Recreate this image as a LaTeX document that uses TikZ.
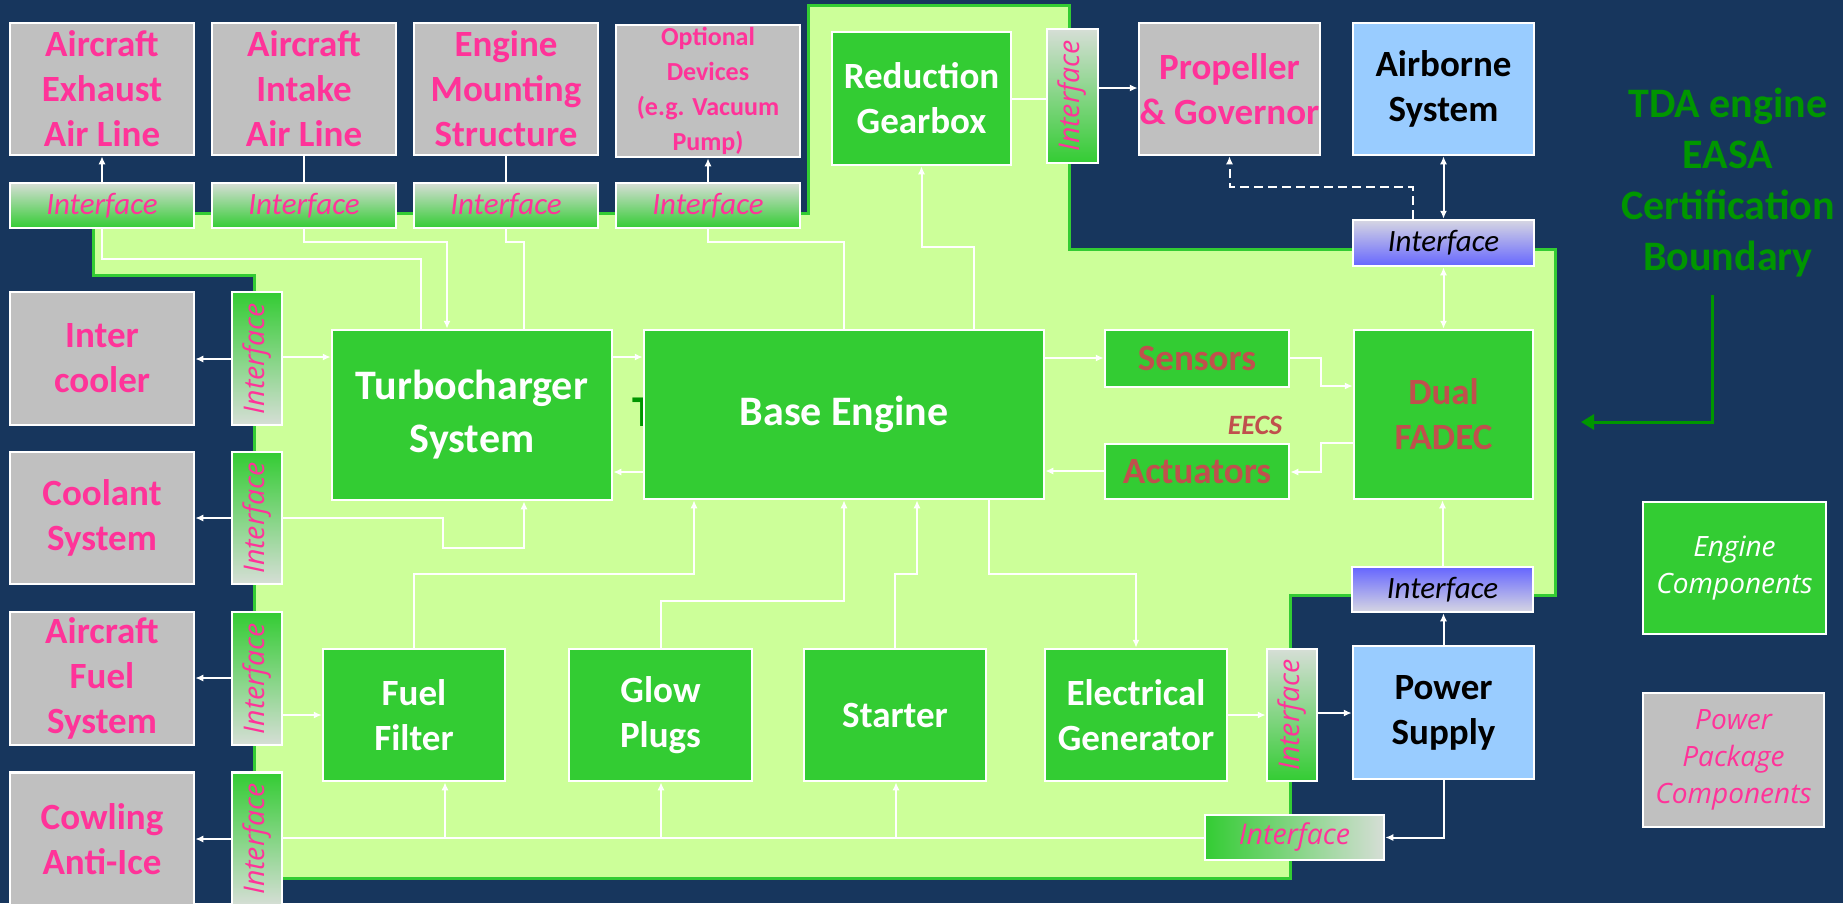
\documentclass[tikz,border=0pt]{standalone}
\usepackage{fontspec}
\setmainfont{Carlito}
\newfontfamily\osans{Open Sans}
\usetikzlibrary{arrows.meta}
\definecolor{bgnavy}{RGB}{23,54,93}
\definecolor{lgreen}{RGB}{204,255,153}
\definecolor{mgreen}{RGB}{51,204,51}
\definecolor{pinkt}{RGB}{255,51,153}
\definecolor{grayb}{RGB}{192,192,192}
\definecolor{blueb}{RGB}{153,204,255}
\definecolor{redt}{RGB}{192,80,77}
\definecolor{dgreen}{RGB}{0,150,0}
\definecolor{ifgray}{RGB}{214,222,214}
\definecolor{ifblue}{RGB}{102,102,255}
\definecolor{ifbgray}{RGB}{214,214,226}
\pgfdeclarelayer{back}
\pgfdeclarelayer{mid}
\pgfsetlayers{back,mid,main}
\begin{document}
\begin{tikzpicture}[x=1pt,y=-1pt,
  box/.style={draw=white, line width=2.5pt, inner sep=0pt, align=center},
  pp/.style={box, fill=grayb, text=pinkt, font=\fontsize{37}{45}\selectfont\bfseries},
  eng/.style={box, fill=mgreen, text=white, font=\fontsize{37}{45}\selectfont\bfseries},
  big/.style={eng, font=\fontsize{42}{53}\selectfont\bfseries},
  ext/.style={box, fill=blueb, text=black, font=\fontsize{37}{45}\selectfont\bfseries},
  iftop/.style={box, top color=ifgray, bottom color=mgreen, text=pinkt, font=\itshape\fontsize{31}{35}\selectfont},
  ifleft/.style={box, top color=mgreen, bottom color=ifgray},
  ifup/.style={box, top color=ifgray, bottom color=mgreen},
  vlab/.style={rotate=90, text=pinkt, font=\osans\itshape\fontsize{28.5}{30}\selectfont},
  ifbu/.style={box, top color=ifbgray, bottom color=ifblue, text=black, font=\itshape\fontsize{31}{35}\selectfont},
  ifbl/.style={box, top color=ifblue, bottom color=ifbgray, text=black, font=\itshape\fontsize{31}{35}\selectfont},
  conn/.style={draw=white, line width=2pt},
  arr/.style={conn, -{Latex[length=8pt,width=7pt]}},
  darr/.style={conn, {Latex[length=8pt,width=7pt]}-{Latex[length=8pt,width=7pt]}},
  dashline/.style={conn, dash pattern=on 9pt off 5pt}
]
\begin{pgfonlayer}{back}
\fill[bgnavy] (0,0) rectangle (1843,903);
\filldraw[fill=lgreen, draw=mgreen, line width=3pt]
  (808,5) -- (1069,5) -- (1069,249) -- (1555,249) -- (1555,595) -- (1290,595)
  -- (1290,878) -- (254,878) -- (254,275) -- (93,275) -- (93,213) -- (808,213) -- cycle;
\node[text=dgreen, font=\fontsize{44}{50}\selectfont\bfseries] (hiddenT) at (643.5,412) {T};
\end{pgfonlayer}
\useasboundingbox (0,0) rectangle (1843,903);

% top row (power package)
\node[pp, minimum width=184pt, minimum height=132pt] (exh) at (102,89) {Aircraft\\Exhaust\\Air Line};
\node[pp, minimum width=184pt, minimum height=132pt] (intk) at (304,89) {Aircraft\\Intake\\Air Line};
\node[pp, minimum width=184pt, minimum height=132pt] (mnt) at (506,89) {Engine\\Mounting\\Structure};
\node[pp, minimum width=184pt, minimum height=132pt, font=\fontsize{26}{35}\selectfont\bfseries] (opt) at (708,91) {Optional\\Devices\\(e.g. Vacuum\\Pump)};
\node[iftop, minimum width=184pt, minimum height=45pt] (exhI) at (102,205.5) {Interface};
\node[iftop, minimum width=184pt, minimum height=45pt] (intkI) at (304,205.5) {Interface};
\node[iftop, minimum width=184pt, minimum height=45pt] (mntI) at (506,205.5) {Interface};
\node[iftop, minimum width=184pt, minimum height=45pt] (optI) at (708,205.5) {Interface};

% left column
\node[pp, minimum width=184pt, minimum height=133pt] (intc) at (102,358.5) {Inter\\cooler};
\node[pp, minimum width=184pt, minimum height=132pt] (cool) at (102,518) {Coolant\\System};
\node[pp, minimum width=184pt, minimum height=133pt] (fsys) at (102,678.5) {Aircraft\\Fuel\\System};
\node[pp, minimum width=184pt, minimum height=133pt] (cowl) at (102,839) {Cowling\\Anti-Ice};
\node[ifleft, minimum width=50pt, minimum height=133pt, label={[vlab]center:Interface}] (intcI) at (257,358.5) {};
\node[ifleft, minimum width=50pt, minimum height=132pt, label={[vlab]center:Interface}] (coolI) at (257,518) {};
\node[ifleft, minimum width=50pt, minimum height=133pt, label={[vlab]center:Interface}] (fsysI) at (257,678.5) {};
\node[ifleft, minimum width=50pt, minimum height=133pt, label={[vlab]center:Interface}] (cowlI) at (257,839) {};

% engine components
\node[big, minimum width=280pt, minimum height=170pt] (turbo) at (472,415) {Turbocharger\\System};
\node[big, minimum width=400pt, minimum height=169pt] (base) at (844,414.5) {Base Engine};
\node[eng, text=redt, minimum width=184pt, minimum height=57pt] (sens) at (1197,358.5) {Sensors};
\node[eng, text=redt, minimum width=184pt, minimum height=55pt] (act) at (1197,471.5) {Actuators};
\node[eng, text=redt, minimum width=179pt, minimum height=169pt] (fadec) at (1443.5,414.5) {Dual\\FADEC};
\node[text=redt, font=\fontsize{28}{30}\selectfont\bfseries\itshape] (eecs) at (1255,425) {EECS};
\node[eng, minimum width=179pt, minimum height=133pt] (gear) at (921.5,98.5) {Reduction\\Gearbox};
\node[ifup, minimum width=51pt, minimum height=134pt, label={[vlab]center:Interface}] (gearI) at (1072.5,96) {};
\node[pp, minimum width=181pt, minimum height=132pt] (prop) at (1229.5,89) {Propeller\\\& Governor};
\node[ext, minimum width=181pt, minimum height=132pt] (air) at (1443.5,89) {Airborne\\System};
\node[ifbu, minimum width=181pt, minimum height=46pt] (ifU) at (1443.5,243) {Interface};
\node[eng, minimum width=182pt, minimum height=132pt] (filt) at (414,715) {Fuel\\Filter};
\node[eng, minimum width=183pt, minimum height=132pt] (glow) at (660.5,715) {Glow\\Plugs};
\node[eng, minimum width=182pt, minimum height=132pt] (start) at (895,715) {Starter};
\node[eng, minimum width=182pt, minimum height=132pt] (eg) at (1136,715) {Electrical\\Generator};
\node[ifup, minimum width=50pt, minimum height=132pt, label={[vlab]center:Interface}] (egI) at (1292,715) {};
\node[ext, minimum width=181pt, minimum height=133pt] (ps) at (1443.5,712.5) {Power\\Supply};
\node[ifbl, minimum width=181pt, minimum height=45pt] (ifL) at (1442.5,589.5) {Interface};
\node[box, left color=mgreen, right color=ifgray, text=pinkt, font=\osans\itshape\fontsize{28.5}{30}\selectfont, minimum width=179pt, minimum height=45pt] (ifB) at (1294.5,837.5) {Interface};

% boundary label
\node[text=dgreen, align=center, font=\fontsize{42}{51}\selectfont\bfseries] (tda) at (1728,183) {TDA engine\\EASA\\Certification\\Boundary};
\coordinate (tdaS) at (1712,295);
\coordinate (tdaE) at (1581,422);

% legend
\node[box, fill=mgreen, text=white, font=\osans\itshape\fontsize{28}{37}\selectfont, minimum width=183pt, minimum height=132pt] (lg1) at (1734.5,568) {Engine\\Components};
\node[box, fill=grayb, text=pinkt, font=\osans\itshape\fontsize{28}{37}\selectfont, minimum width=181pt, minimum height=134pt] (lg2) at (1733.5,760) {Power\\Package\\Components};

\begin{pgfonlayer}{mid}
% top interfaces
\draw[arr] (exhI.north) -- (exh.south);
\draw[conn] (intkI.north) -- (intk.south);
\draw[conn] (mntI.north) -- (mnt.south);
\draw[arr] (optI.north) -- (opt.south);
\draw[conn] (exhI.south) |- (421,259) -- (421,0 |- turbo.north);
\draw[arr] (intkI.south) |- (447,242) -- (447,0 |- turbo.north);
\draw[conn] (mntI.south) |- (524,242) -- (524,0 |- turbo.north);
\draw[conn] (optI.south) |- (844,242) -- (844,0 |- base.north);
% gearbox, propeller, airborne
\draw[arr] (974,0 |- base.north) |- (921.5,247) -- (gear.south);
\draw[conn] (gear.east) -- (gearI.west |- gear.east);
\draw[arr] (gearI.east |- 0,88) -- (prop.west |- 0,88);
\draw[darr] (air.south) -- (ifU.north);
\draw[dashline, -{Latex[length=8pt,width=7pt]}] (1413,0 |- ifU.north) |- (1229.5,187) -- (prop.south);
\draw[darr] (ifU.south) -- (fadec.north);
% EECS
\draw[arr] (base.east |- 0,358) -- (sens.west |- 0,358);
\draw[arr] (sens.east |- 0,358) -| (1321,386) -- (fadec.west |- 0,386);
\draw[arr] (fadec.west |- 0,443) -| (1321,472) -- (act.east |- 0,472);
\draw[arr] (act.west |- 0,471) -- (base.east |- 0,471);
\draw[arr] (turbo.east |- 0,357) -- (base.west |- 0,357);
\draw[arr] (base.west |- 0,472) -- (turbo.east |- 0,472);
% left column
\draw[arr] (intcI.west |- 0,359) -- (intc.east |- 0,359);
\draw[arr] (intcI.east |- 0,357) -- (turbo.west |- 0,357);
\draw[arr] (coolI.west |- 0,518) -- (cool.east |- 0,518);
\draw[arr] (coolI.east |- 0,518) -| (443,548) -| (524,0 |- turbo.south);
\draw[arr] (fsysI.west |- 0,678) -- (fsys.east |- 0,678);
\draw[arr] (fsysI.east |- 0,715) -- (filt.west);
\draw[arr] (cowlI.west |- 0,839) -- (cowl.east |- 0,839);
\draw[conn] (cowlI.east |- 0,838) -- (ifB.west |- 0,838);
\coordinate (j1) at (445,838);
\coordinate (j2) at (661,838);
\coordinate (j3) at (896,838);
\draw[arr] (j1) -- (j1 |- filt.south);
\draw[arr] (j2) -- (j2 |- glow.south);
\draw[arr] (j3) -- (j3 |- start.south);
% bottom row to base
\draw[arr] (filt.north) |- (694,574) -- (694,0 |- base.south);
\draw[arr] (glow.north) |- (844,601) -- (844,0 |- base.south);
\draw[arr] (start.north) |- (917,574) -- (917,0 |- base.south);
\draw[arr] (989,0 |- base.south) |- (1136,574) -- (eg.north);
% power supply
\draw[arr] (eg.east) -- (egI.west);
\draw[arr] (egI.east |- 0,713) -- (ps.west |- 0,713);
\draw[arr] (ps.south) |- (ifB.east);
\draw[arr] (ps.north) -- (ps.north |- ifL.south);
\draw[arr] (ifL.north) -- (ifL.north |- fadec.south);
% boundary arrow
\draw[dgreen, line width=3pt, -{Triangle[length=13pt,width=15pt]}] (tdaS) |- (tdaE);
\end{pgfonlayer}
\end{tikzpicture}
\end{document}
